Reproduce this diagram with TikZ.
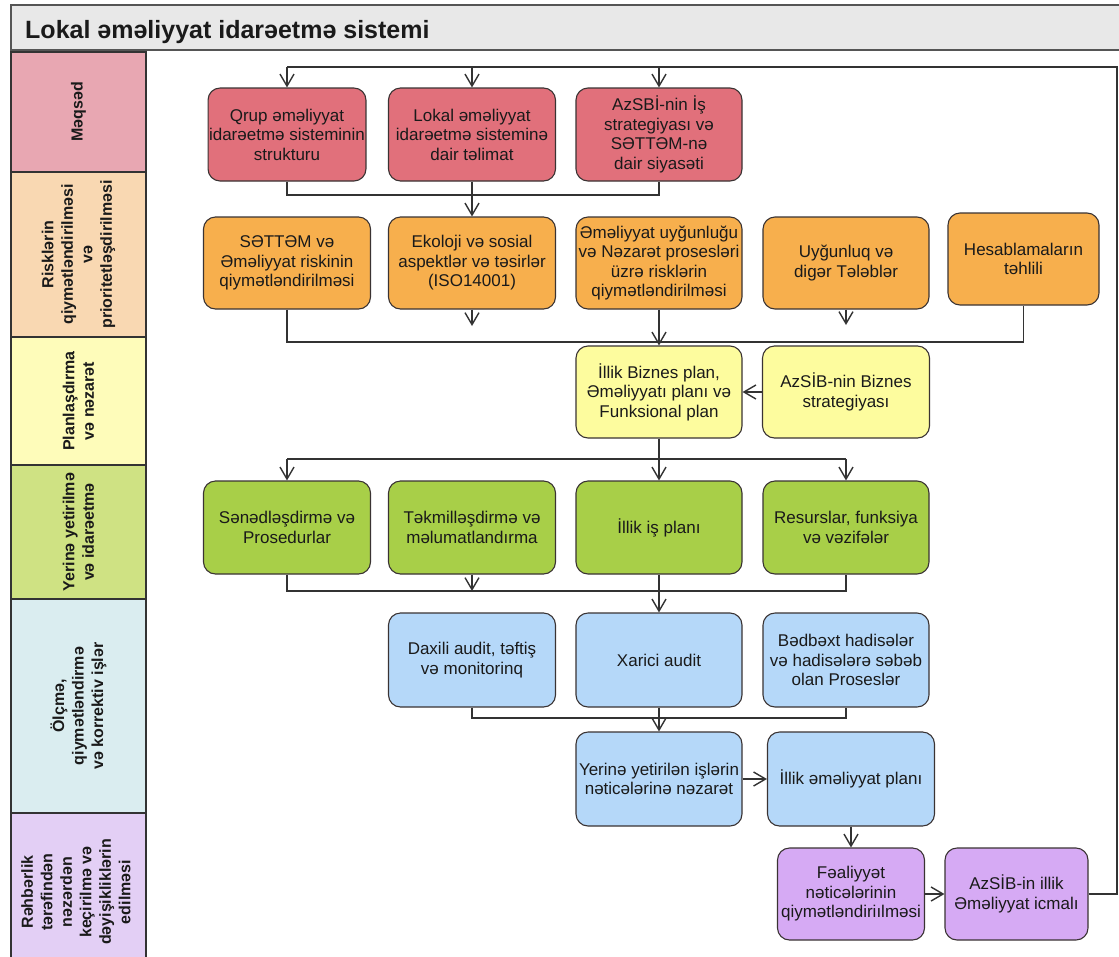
\documentclass[tikz,border=0pt]{standalone}
\usepackage{fontspec}
\setmainfont{Liberation Sans}
\usetikzlibrary{arrows.meta}
\definecolor{laneA}{HTML}{E8A7B2}
\definecolor{laneB}{HTML}{F9D8B2}
\definecolor{laneC}{HTML}{FEFCBA}
\definecolor{laneD}{HTML}{CFE283}
\definecolor{laneE}{HTML}{DAEDF0}
\definecolor{laneF}{HTML}{E3CFF5}
\definecolor{cred}{HTML}{E1707B}
\definecolor{corange}{HTML}{F7AF4D}
\definecolor{cyellow}{HTML}{FDFC9E}
\definecolor{cgreen}{HTML}{A8CF48}
\definecolor{cblue}{HTML}{B5D8F9}
\definecolor{cpurple}{HTML}{D6AAF4}
\definecolor{titlebg}{HTML}{E8E8E8}
\definecolor{titleedge}{HTML}{555555}
\definecolor{edge}{HTML}{3A3333}
\definecolor{wire}{HTML}{333333}
\definecolor{ink}{HTML}{1A1A1A}
\begin{document}
\begin{tikzpicture}[x=1pt,y=-1pt,
  box/.style={draw=edge, line width=1.1pt, rounded corners=12pt, align=center, inner sep=1pt, text=ink, font=\fontsize{17}{19.5}\selectfont},
  lanebox/.style={draw=wire, line width=1.4pt},
  lanelabel/.style={rotate=90, align=center, font=\bfseries\fontsize{16}{19.5}\selectfont, text=ink},
  conn/.style={draw=wire, line width=1.4pt},
  arr/.style={conn, -{Straight Barb[length=12pt,width=14pt]}},
  rbox/.style={box, fill=cred, minimum height=93pt},
  obox/.style={box, fill=corange, minimum height=92pt},
  ybox/.style={box, fill=cyellow, minimum height=92pt},
  gbox/.style={box, fill=cgreen, minimum height=93pt},
  bbox/.style={box, fill=cblue, minimum height=94pt},
  pbox/.style={box, fill=cpurple, minimum height=92pt},
]
\useasboundingbox (0,0) rectangle (1119,956);
\clip (0,0) rectangle (1119,956);
\fill[white] (0,0) rectangle (1119,956);

% title bar
\draw[fill=titlebg, draw=titleedge, line width=1.8pt] (11,5) rectangle (1135,50);
\node[anchor=base west, font=\bfseries\fontsize{25}{28}\selectfont, text=ink, inner sep=0pt] (title) at (25,38) {Lokal əməliyyat idarəetmə sistemi};

% lanes
\draw[lanebox, fill=laneA] (11,52) rectangle (146,172);
\draw[lanebox, fill=laneB] (11,172) rectangle (146,337);
\draw[lanebox, fill=laneC] (11,337) rectangle (146,465);
\draw[lanebox, fill=laneD] (11,465) rectangle (146,599);
\draw[lanebox, fill=laneE] (11,599) rectangle (146,813);
\draw[lanebox, fill=laneF] (11,813) rectangle (146,962);

\node[lanelabel] (lA) at (78.5,112) {Məqsəd};
\node[lanelabel] (lB) at (78.5,254.5) {Risklərin\\qiymətləndirilməsi\\və\\prioritetləşdirilməsi};
\node[lanelabel] (lC) at (78.5,401) {Planlaşdırma\\və nəzarət};
\node[lanelabel] (lD) at (78.5,532) {Yerinə yetirilmə\\və idarəetmə};
\node[lanelabel] (lE) at (78.5,706) {Ölçmə,\\qiymətləndirmə\\və korrektiv işlər};
\node[lanelabel] (lF) at (76,892) {Rəhbərlik\\tərəfindən\\nəzərdən\\keçirilmə və\\dəyişikliklərin\\edilməsi};

% red row
\node[rbox, minimum width=156pt] (q1) at (287,134.5) {Qrup əməliyyat\\idarəetmə sisteminin\\strukturu};
\node[rbox, minimum width=167pt] (q2) at (472,134.5) {Lokal əməliyyat\\idarəetmə sisteminə\\dair təlimat};
\node[rbox, minimum width=166pt] (q3) at (659,134.5) {AzSBİ-nin İş\\strategiyası və\\SƏTTƏM-nə\\dair siyasəti};

% orange row
\node[obox, minimum width=167pt] (o1) at (287,263) {SƏTTƏM və\\Əməliyyat riskinin\\qiymətləndirilməsi};
\node[obox, minimum width=167pt] (o2) at (472,263) {Ekoloji və sosial\\aspektlər və təsirlər\\(ISO14001)};
\node[obox, minimum width=166pt] (o3) at (659,263) {Əməliyyat uyğunluğu\\və Nəzarət prosesləri\\üzrə risklərin\\qiymətləndirilməsi};
\node[obox, minimum width=166pt] (o4) at (846,263) {Uyğunluq və\\digər Tələblər};
\node[obox, minimum width=151pt, minimum height=92pt] (o5) at (1023.5,259) {Hesablamaların\\təhlili};

% yellow row
\node[ybox, minimum width=166pt] (y1) at (659,392) {İllik Biznes plan,\\Əməliyyatı planı və\\Funksional plan};
\node[ybox, minimum width=167pt] (y2) at (846,392) {AzSİB-nin Biznes\\strategiyası};

% green row
\node[gbox, minimum width=167pt] (g1) at (287,527.5) {Sənədləşdirmə və\\Prosedurlar};
\node[gbox, minimum width=167pt] (g2) at (472,527.5) {Təkmilləşdirmə və\\məlumatlandırma};
\node[gbox, minimum width=166pt] (g3) at (659,527.5) {İllik iş planı};
\node[gbox, minimum width=166pt] (g4) at (846,527.5) {Resurslar, funksiya\\və vəzifələr};

% blue row 1
\node[bbox, minimum width=167pt] (b1) at (472,660) {Daxili audit, təftiş\\və monitorinq};
\node[bbox, minimum width=166pt] (b2) at (659,660) {Xarici audit};
\node[bbox, minimum width=166pt] (b3) at (846,660) {Bədbəxt hadisələr\\və hadisələrə səbəb\\olan Proseslər};

% blue row 2
\node[bbox, minimum width=166pt] (b4) at (659,779) {Yerinə yetirilən işlərin\\nəticələrinə nəzarət};
\node[bbox, minimum width=167pt] (b5) at (851,779) {İllik əməliyyat planı};

% purple row
\node[pbox, minimum width=147pt] (p1) at (851,894) {Fəaliyyət\\nəticələrinin\\qiymətləndiriılməsi};
\node[pbox, minimum width=143pt] (p2) at (1016.5,894) {AzSİB-in illik\\Əməliyyat icmalı};

% junction coordinates
\coordinate (fbL) at (287,67);
\coordinate (fbR) at (1117,67);
\coordinate (j1) at (472,195);
\coordinate (j2) at (659,342);
\coordinate (j3) at (659,459);
\coordinate (j4) at (659,591);
\coordinate (j5) at (659,718);

% feedback loop
\draw[conn] (p2.east) -| (fbR) -- (fbL);
\draw[arr] (fbL) -- (q1.north);
\draw[arr] (q2.north |- fbL) -- (q2.north);
\draw[arr] (q3.north |- fbL) -- (q3.north);

% red -> orange
\draw[conn] (q1.south) |- (j1) -| (q3.south);
\draw[arr] (q2.south) -- (o2.north);

% orange -> yellow
\draw[conn] (o1.south) |- (j2) -| (o5.south);
\draw[arr, shorten >=16pt] (o2.south) -- (o2.south |- j2);
\draw[arr, shorten >=17pt] (o4.south) -- (o4.south |- j2);
\draw[arr] (o3.south) -- (y1.north);
\draw[arr] (y2.west) -- (y1.east);

% yellow -> green
\draw[conn] (y1.south) -- (j3);
\draw[conn] (g1.north |- j3) -- (g4.north |- j3);
\draw[arr] (g1.north |- j3) -- (g1.north);
\draw[arr] (j3) -- (g3.north);
\draw[arr] (g4.north |- j3) -- (g4.north);

% green -> blue
\draw[conn] (g1.south) |- (j4) -| (g4.south);
\draw[arr] (g2.south) -- (g2.south |- j4);
\draw[arr] (g3.south) -- (b2.north);

% blue -> blue
\draw[conn] (b1.south) |- (j5) -| (b3.south);
\draw[arr] (b2.south) -- (b4.north);
\draw[arr] (b4.east) -- (b5.west);
\draw[arr] (b5.south) -- (p1.north);
\draw[arr] (p1.east) -- (p2.west);
\end{tikzpicture}
\end{document}
